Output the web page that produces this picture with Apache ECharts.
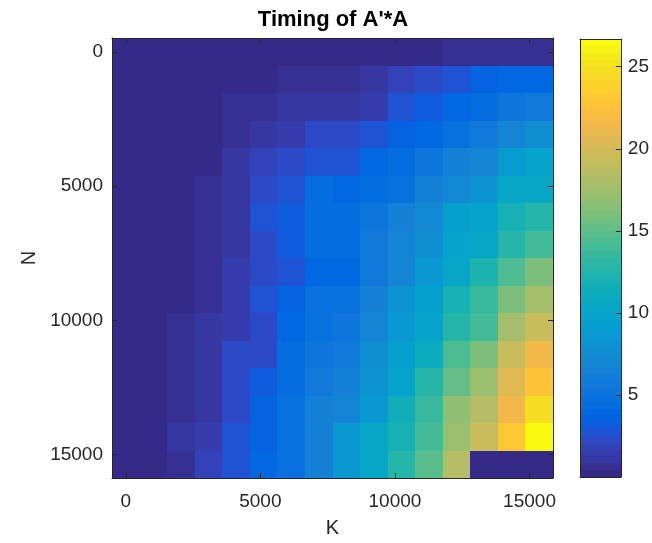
<!DOCTYPE html>
<html>
<head>
<meta charset="utf-8">
<script src="https://cdn.jsdelivr.net/npm/echarts@6/dist/echarts.min.js"></script>
<style>
  html, body { margin: 0; background: #fff; }
  #main { width: 652px; height: 543px; }
</style>
</head>
<body>
<div id="main"></div>
<script>
// matrix sizes (image columns = K, image rows = N)
const kValues = [0, 1024, 2048, 3072, 4096, 5120, 6144, 7168, 8192, 9216, 10240, 11264, 12288, 13312, 14336, 15360];
const nValues = [0, 1024, 2048, 3072, 4096, 5120, 6144, 7168, 8192, 9216, 10240, 11264, 12288, 13312, 14336, 15360];

// time of A'*A in seconds, one row per N value
const times = [
  [0.02, 0.03, 0.05, 0.07, 0.09, 0.11, 0.13, 0.16, 0.19, 0.23, 0.27, 0.32, 0.55, 0.62, 0.68, 0.74],
  [0.03, 0.06, 0.10, 0.14, 0.19, 0.26, 0.55, 0.72, 0.80, 1.10, 1.85, 2.30, 2.70, 3.50, 3.95, 4.05],
  [0.04, 0.08, 0.14, 0.22, 0.50, 0.75, 0.95, 1.05, 1.15, 1.45, 2.70, 3.10, 3.95, 4.40, 5.20, 5.60],
  [0.05, 0.11, 0.20, 0.32, 0.60, 1.00, 1.40, 2.25, 2.35, 2.75, 3.55, 3.95, 4.80, 5.65, 6.90, 7.70],
  [0.06, 0.14, 0.25, 0.38, 0.95, 1.80, 2.30, 2.70, 2.65, 3.95, 4.35, 5.20, 6.45, 6.90, 8.95, 9.80],
  [0.07, 0.17, 0.30, 0.48, 1.00, 2.20, 2.65, 4.30, 4.00, 4.20, 4.80, 6.45, 7.30, 8.10, 10.20, 10.30],
  [0.08, 0.20, 0.35, 0.55, 1.05, 2.60, 3.10, 4.40, 4.35, 5.20, 6.50, 7.25, 9.35, 9.80, 11.85, 12.70],
  [0.09, 0.22, 0.38, 0.60, 1.10, 2.35, 3.15, 4.35, 4.40, 5.60, 6.85, 7.70, 9.75, 10.20, 12.75, 13.95],
  [0.10, 0.25, 0.40, 0.65, 1.45, 2.25, 2.75, 3.95, 3.90, 5.60, 6.90, 8.55, 10.25, 12.30, 14.40, 16.05],
  [0.11, 0.28, 0.41, 0.70, 1.50, 2.70, 3.55, 4.80, 4.75, 6.45, 8.15, 9.40, 11.90, 13.55, 16.05, 17.70],
  [0.12, 0.30, 0.45, 0.95, 1.50, 2.30, 3.95, 4.80, 5.20, 6.90, 8.55, 9.80, 12.70, 13.95, 17.75, 19.40],
  [0.13, 0.32, 0.50, 1.00, 2.20, 2.35, 4.35, 5.20, 5.65, 7.70, 9.40, 11.05, 14.40, 16.05, 19.40, 21.50],
  [0.14, 0.34, 0.55, 1.05, 2.25, 3.10, 4.40, 5.60, 6.45, 8.15, 9.80, 12.70, 15.20, 17.30, 20.65, 22.75],
  [0.15, 0.36, 0.60, 1.10, 2.30, 3.50, 4.80, 6.45, 6.90, 8.55, 11.45, 13.55, 16.90, 18.55, 21.50, 24.80],
  [0.16, 0.38, 0.95, 1.45, 2.70, 3.55, 4.80, 6.50, 8.55, 10.20, 11.90, 13.95, 17.30, 19.40, 23.15, 26.69],
  [0.17, 0.40, 0.62, 1.85, 2.65, 3.95, 4.75, 6.45, 8.50, 10.25, 12.70, 14.80, 18.55, 0, 0, 0]
];

const xTicks = [0, 5000, 10000, 15000];
const yTicks = [0, 5000, 10000, 15000];
const cbarTicks = [5, 10, 15, 20, 25];

// parula, 64 entries
const parula = [
  '#352a87', '#363093', '#3637a0', '#353dad', '#3243ba', '#2c4ac7', '#2053d4', '#0f5cdd',
  '#0363e1', '#0268e1', '#046de0', '#0871de', '#0d75dc', '#1079da', '#127dd8', '#1481d6',
  '#1485d4', '#1389d3', '#108ed2', '#0c93d2', '#0998d1', '#079ccf', '#06a0cd', '#06a4ca',
  '#06a7c6', '#07a9c2', '#0aacbe', '#0faeb9', '#15b1b4', '#1db3af', '#25b5a9', '#2eb7a4',
  '#38b99e', '#42bb98', '#4dbc92', '#59bd8c', '#65be86', '#71bf80', '#7cbf7b', '#87bf77',
  '#92bf73', '#9cbf6f', '#a5be6b', '#aebe67', '#b7bd64', '#c0bc60', '#c8bc5d', '#d1bb59',
  '#d9ba56', '#e1b952', '#e9b94e', '#f1b94a', '#f8bb44', '#fdbe3d', '#ffc337', '#fec832',
  '#fcce2e', '#fad32a', '#f7d826', '#f5de21', '#f5e41d', '#f5eb18', '#f6f313', '#f9fb0e'
];

const axisColor = '#262626';
const font = 'Liberation Sans';

const halfK = (kValues[1] - kValues[0]) / 2;
const halfN = (nValues[1] - nValues[0]) / 2;
const allTimes = [].concat(...times);
const cmin = Math.min(...allTimes);
const cmax = Math.max(...allTimes);

// matlab style scaled colour lookup
function colorOf(v) {
  let idx = Math.floor((v - cmin) / (cmax - cmin) * parula.length);
  idx = Math.max(0, Math.min(parula.length - 1, idx));
  return parula[idx];
}

const cells = [];
nValues.forEach((n, r) => {
  kValues.forEach((k, c) => {
    cells.push([k, n, times[r][c]]);
  });
});

const cbarStep = (cmax - cmin) / parula.length;
const cbarBands = parula.map((col, i) => [i, cmin + i * cbarStep, cmin + (i + 1) * cbarStep]);

// pixel-snapped rect between two data corners
function snapRect(p0, p1) {
  const x0 = Math.round(Math.min(p0[0], p1[0])), x1 = Math.round(Math.max(p0[0], p1[0]));
  const y0 = Math.round(Math.min(p0[1], p1[1])), y1 = Math.round(Math.max(p0[1], p1[1]));
  return { x: x0, y: y0, width: x1 - x0, height: y1 - y0 };
}

function frameAxis(extra) {
  return Object.assign({
    type: 'value',
    z: 10,
    axisLine: { show: true, onZero: false, lineStyle: { color: axisColor, width: 1 } },
    axisTick: { show: false },
    axisLabel: { show: false },
    splitLine: { show: false }
  }, extra);
}

const tickStyle = { show: true, inside: true, length: 5, lineStyle: { color: axisColor, width: 1 } };
const labelStyle = { color: axisColor, fontSize: 19, fontFamily: font, formatter: v => String(v) };

var myChart = echarts.init(document.getElementById('main'));

const option = {
  backgroundColor: '#fff',
  animation: false,
  title: {
    text: "Timing of A'*A",
    left: 333,
    textAlign: 'center',
    top: 9,
    padding: 0,
    textStyle: { fontSize: 22, fontWeight: 'bold', color: '#000', fontFamily: font }
  },
  grid: [
    { left: 112, top: 38, width: 441, height: 440 },
    { left: 580, top: 39, width: 41, height: 438 }
  ],
  xAxis: [
    frameAxis({
      gridIndex: 0, position: 'bottom',
      min: kValues[0] - halfK, max: kValues[kValues.length - 1] + halfK,
      axisTick: Object.assign({ customValues: xTicks }, tickStyle),
      axisLabel: Object.assign({ show: true, customValues: xTicks, margin: 14 }, labelStyle),
      name: 'K', nameLocation: 'middle', nameGap: 40,
      nameTextStyle: { color: axisColor, fontSize: 20, fontFamily: font }
    }),
    frameAxis({
      gridIndex: 0, position: 'top',
      min: kValues[0] - halfK, max: kValues[kValues.length - 1] + halfK,
      axisTick: Object.assign({ customValues: xTicks }, tickStyle)
    }),
    frameAxis({ gridIndex: 1, position: 'bottom', min: 0, max: 1 }),
    frameAxis({ gridIndex: 1, position: 'top', min: 0, max: 1 })
  ],
  yAxis: [
    frameAxis({
      gridIndex: 0, position: 'left', inverse: true,
      min: nValues[0] - halfN, max: nValues[nValues.length - 1] + halfN,
      axisTick: Object.assign({ customValues: yTicks }, tickStyle),
      axisLabel: Object.assign({ show: true, customValues: yTicks, margin: 9 }, labelStyle),
      name: 'N', nameLocation: 'middle', nameGap: 66,
      nameTextStyle: { color: axisColor, fontSize: 20, fontFamily: font }
    }),
    frameAxis({
      gridIndex: 0, position: 'right', inverse: true,
      min: nValues[0] - halfN, max: nValues[nValues.length - 1] + halfN,
      axisTick: Object.assign({ customValues: yTicks }, tickStyle)
    }),
    frameAxis({ gridIndex: 1, position: 'left', min: cmin, max: cmax }),
    frameAxis({
      gridIndex: 1, position: 'right', min: cmin, max: cmax,
      axisTick: Object.assign({ customValues: cbarTicks }, tickStyle),
      axisLabel: Object.assign({ show: true, customValues: cbarTicks, margin: 7 }, labelStyle)
    })
  ],
  series: [
    {
      type: 'custom',
      xAxisIndex: 0,
      yAxisIndex: 0,
      encode: { x: 0, y: 1 },
      data: cells,
      renderItem: function (params, api) {
        const k = api.value(0), n = api.value(1);
        const p0 = api.coord([k - halfK, n - halfN]);
        const p1 = api.coord([k + halfK, n + halfN]);
        return {
          type: 'rect',
          shape: snapRect(p0, p1),
          style: { fill: colorOf(api.value(2)) }
        };
      }
    },
    {
      // colorbar, one band per colormap entry
      type: 'custom',
      xAxisIndex: 2,
      yAxisIndex: 2,
      data: cbarBands,
      renderItem: function (params, api) {
        const p0 = api.coord([0, api.value(1)]);
        const p1 = api.coord([1, api.value(2)]);
        return {
          type: 'rect',
          shape: snapRect(p0, p1),
          style: { fill: parula[api.value(0)] }
        };
      }
    }
  ]
};

myChart.setOption(option);
</script>
</body>
</html>
